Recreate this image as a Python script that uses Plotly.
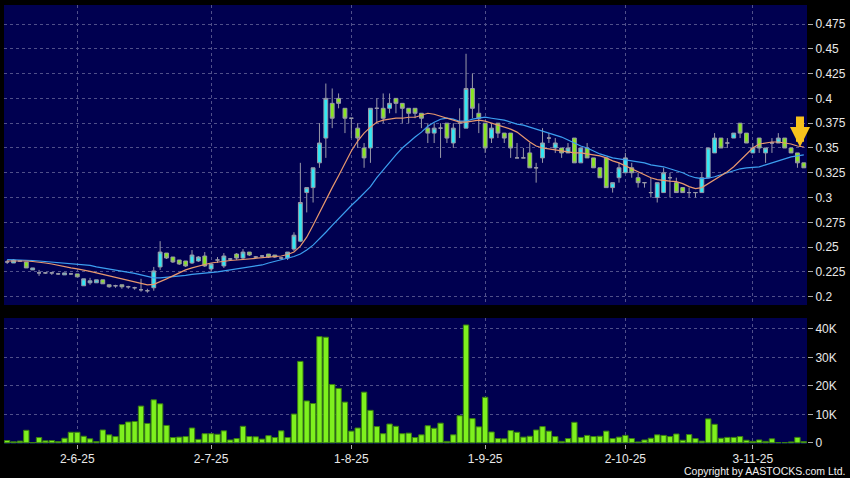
import plotly.graph_objects as go

# ---------------- data ----------------
idx = list(range(126))
tick_idx = [11, 32, 54, 75, 97, 117]
tick_labels = ["2-6-25", "2-7-25", "1-8-25", "1-9-25", "2-10-25", "3-11-25"]

opens = [0.235, 0.234, 0.236, 0.235, 0.227, 0.224, 0.224, 0.224, 0.223, 0.222,
         0.223, 0.223, 0.211, 0.214, 0.214, 0.217, 0.212, 0.211, 0.212, 0.210,
         0.209, 0.207, 0.206, 0.209, 0.230, 0.244, 0.240, 0.237, 0.236, 0.234,
         0.236, 0.241, 0.228, 0.237, 0.231, 0.238, 0.243, 0.239, 0.245, 0.240,
         0.241, 0.243, 0.242, 0.239, 0.239, 0.248, 0.256, 0.305, 0.310, 0.335,
         0.360, 0.395, 0.400, 0.390, 0.380, 0.370, 0.350, 0.350, 0.390, 0.390,
         0.390, 0.400, 0.395, 0.390, 0.390, 0.385, 0.370, 0.365, 0.370, 0.375,
         0.355, 0.375, 0.370, 0.410, 0.385, 0.375, 0.360, 0.375, 0.365, 0.365,
         0.340, 0.340, 0.345, 0.330, 0.340, 0.360, 0.350, 0.350, 0.345, 0.360,
         0.335, 0.350, 0.340, 0.330, 0.340, 0.310, 0.320, 0.325, 0.330, 0.320,
         0.315, 0.305, 0.300, 0.305, 0.320, 0.315, 0.310, 0.305, 0.305, 0.305,
         0.320, 0.345, 0.360, 0.355, 0.360, 0.375, 0.365, 0.345, 0.360, 0.345,
         0.355, 0.355, 0.360, 0.350, 0.345, 0.335]
highs = [0.237, 0.238, 0.237, 0.235, 0.229, 0.227, 0.224, 0.225, 0.224, 0.224,
         0.224, 0.223, 0.218, 0.219, 0.217, 0.217, 0.212, 0.212, 0.212, 0.211,
         0.210, 0.218, 0.208, 0.230, 0.256, 0.244, 0.240, 0.237, 0.236, 0.247,
         0.241, 0.245, 0.233, 0.240, 0.244, 0.239, 0.244, 0.248, 0.245, 0.241,
         0.242, 0.243, 0.242, 0.240, 0.245, 0.265, 0.335, 0.310, 0.330, 0.375,
         0.415, 0.410, 0.405, 0.390, 0.380, 0.375, 0.355, 0.390, 0.400, 0.405,
         0.405, 0.400, 0.395, 0.390, 0.390, 0.385, 0.375, 0.375, 0.375, 0.375,
         0.375, 0.390, 0.445, 0.425, 0.395, 0.375, 0.375, 0.375, 0.365, 0.365,
         0.355, 0.350, 0.355, 0.335, 0.370, 0.365, 0.360, 0.350, 0.355, 0.360,
         0.350, 0.355, 0.340, 0.330, 0.340, 0.315, 0.335, 0.345, 0.335, 0.325,
         0.315, 0.320, 0.315, 0.330, 0.325, 0.320, 0.310, 0.310, 0.305, 0.325,
         0.350, 0.365, 0.360, 0.360, 0.365, 0.375, 0.365, 0.355, 0.360, 0.350,
         0.360, 0.365, 0.360, 0.350, 0.345, 0.335]
lows = [0.233, 0.234, 0.235, 0.229, 0.227, 0.221, 0.223, 0.222, 0.222, 0.222,
        0.222, 0.220, 0.211, 0.212, 0.214, 0.213, 0.209, 0.209, 0.208, 0.208,
        0.207, 0.205, 0.204, 0.206, 0.227, 0.238, 0.234, 0.232, 0.230, 0.233,
        0.235, 0.230, 0.226, 0.234, 0.229, 0.236, 0.237, 0.238, 0.241, 0.238,
        0.240, 0.239, 0.239, 0.237, 0.237, 0.246, 0.255, 0.285, 0.295, 0.330,
        0.340, 0.370, 0.390, 0.365, 0.360, 0.350, 0.330, 0.335, 0.375, 0.375,
        0.385, 0.385, 0.375, 0.375, 0.380, 0.370, 0.355, 0.355, 0.340, 0.355,
        0.350, 0.360, 0.370, 0.380, 0.365, 0.345, 0.355, 0.360, 0.355, 0.340,
        0.340, 0.340, 0.330, 0.315, 0.335, 0.355, 0.345, 0.340, 0.345, 0.335,
        0.335, 0.340, 0.330, 0.320, 0.310, 0.305, 0.315, 0.325, 0.320, 0.310,
        0.310, 0.300, 0.295, 0.305, 0.300, 0.305, 0.305, 0.300, 0.300, 0.305,
        0.320, 0.345, 0.350, 0.350, 0.360, 0.360, 0.355, 0.345, 0.345, 0.335,
        0.345, 0.355, 0.350, 0.345, 0.330, 0.330]
closes = [0.235, 0.237, 0.236, 0.229, 0.229, 0.224, 0.224, 0.224, 0.223, 0.224,
          0.223, 0.220, 0.218, 0.216, 0.217, 0.213, 0.210, 0.211, 0.210, 0.210,
          0.209, 0.207, 0.206, 0.226, 0.245, 0.239, 0.235, 0.233, 0.231, 0.242,
          0.240, 0.231, 0.233, 0.237, 0.241, 0.238, 0.239, 0.245, 0.242, 0.240,
          0.241, 0.240, 0.240, 0.239, 0.245, 0.262, 0.295, 0.310, 0.330, 0.355,
          0.400, 0.380, 0.395, 0.380, 0.380, 0.360, 0.340, 0.390, 0.390, 0.380,
          0.395, 0.395, 0.390, 0.385, 0.385, 0.380, 0.365, 0.370, 0.370, 0.360,
          0.370, 0.375, 0.410, 0.390, 0.380, 0.350, 0.370, 0.365, 0.360, 0.350,
          0.340, 0.340, 0.330, 0.330, 0.355, 0.360, 0.355, 0.345, 0.350, 0.335,
          0.350, 0.340, 0.330, 0.320, 0.310, 0.315, 0.330, 0.340, 0.325, 0.315,
          0.315, 0.305, 0.315, 0.325, 0.320, 0.305, 0.305, 0.305, 0.305, 0.320,
          0.350, 0.360, 0.350, 0.355, 0.365, 0.365, 0.355, 0.350, 0.350, 0.350,
          0.355, 0.360, 0.350, 0.345, 0.335, 0.330]

ma_fast = [0.2360, 0.2362, 0.2362, 0.2360, 0.2355, 0.2350, 0.2340, 0.2330, 0.2315, 0.2300,
           0.2290, 0.2280, 0.2270, 0.2255, 0.2240, 0.2225, 0.2210, 0.2195, 0.2180, 0.2160,
           0.2145, 0.2130, 0.2120, 0.2125, 0.2150, 0.2180, 0.2210, 0.2240, 0.2270, 0.2290,
           0.2310, 0.2325, 0.2340, 0.2350, 0.2360, 0.2365, 0.2370, 0.2375, 0.2380, 0.2385,
           0.2390, 0.2395, 0.2400, 0.2410, 0.2425, 0.2450, 0.2510, 0.2600, 0.2720, 0.2850,
           0.2980, 0.3100, 0.3220, 0.3350, 0.3470, 0.3570, 0.3650, 0.3710, 0.3760, 0.3780,
           0.3790, 0.3800, 0.3800, 0.3810, 0.3810, 0.3830, 0.3850, 0.3840, 0.3820, 0.3800,
           0.3780, 0.3760, 0.3760, 0.3770, 0.3780, 0.3770, 0.3750, 0.3730, 0.3710, 0.3690,
           0.3660, 0.3610, 0.3560, 0.3520, 0.3500, 0.3490, 0.3480, 0.3470, 0.3460, 0.3450,
           0.3450, 0.3440, 0.3430, 0.3420, 0.3400, 0.3370, 0.3350, 0.3320, 0.3290, 0.3260,
           0.3230, 0.3200, 0.3180, 0.3170, 0.3165, 0.3160, 0.3140, 0.3110, 0.3090, 0.3100,
           0.3140, 0.3180, 0.3220, 0.3260, 0.3310, 0.3370, 0.3440, 0.3500, 0.3540, 0.3550,
           0.3560, 0.3560, 0.3550, 0.3540, 0.3520, 0.3510]
ma_slow = [0.2373, 0.2372, 0.2371, 0.2370, 0.2365, 0.2360, 0.2355, 0.2350, 0.2345, 0.2340,
           0.2335, 0.2330, 0.2325, 0.2315, 0.2300, 0.2290, 0.2278, 0.2266, 0.2255, 0.2245,
           0.2235, 0.2220, 0.2205, 0.2190, 0.2190, 0.2195, 0.2205, 0.2210, 0.2215, 0.2225,
           0.2230, 0.2238, 0.2245, 0.2250, 0.2260, 0.2270, 0.2278, 0.2290, 0.2300, 0.2310,
           0.2320, 0.2340, 0.2355, 0.2370, 0.2390, 0.2405, 0.2430, 0.2470, 0.2520, 0.2580,
           0.2650, 0.2720, 0.2790, 0.2860, 0.2920, 0.2980, 0.3040, 0.3110, 0.3200, 0.3280,
           0.3360, 0.3430, 0.3500, 0.3560, 0.3610, 0.3660, 0.3720, 0.3760, 0.3790, 0.3800,
           0.3790, 0.3770, 0.3770, 0.3790, 0.3800, 0.3810, 0.3800, 0.3790, 0.3780, 0.3760,
           0.3740, 0.3730, 0.3710, 0.3690, 0.3670, 0.3650, 0.3630, 0.3610, 0.3580, 0.3550,
           0.3520, 0.3500, 0.3470, 0.3440, 0.3420, 0.3400, 0.3390, 0.3380, 0.3370, 0.3360,
           0.3350, 0.3330, 0.3320, 0.3310, 0.3290, 0.3270, 0.3250, 0.3220, 0.3200, 0.3190,
           0.3195, 0.3210, 0.3230, 0.3250, 0.3270, 0.3290, 0.3300, 0.3305, 0.3310, 0.3330,
           0.3350, 0.3370, 0.3390, 0.3410, 0.3420, 0.3430]

volumes = [800, 350, 600, 4400, 100, 1850, 700, 800, 450, 1600,
           3700, 3700, 2300, 1400, 450, 4500, 2800, 2200, 6400, 7300,
           7500, 12900, 6800, 15100, 13700, 6100, 1850, 2000, 2200, 5200,
           1200, 3200, 3200, 3000, 4200, 1000, 1500, 5800, 2200, 2100,
           1300, 2500, 1850, 4200, 1850, 10100, 28600, 14700, 13800, 37300,
           37100, 20500, 19100, 14300, 4100, 5200, 17800, 11400, 5700, 3200,
           6600, 5800, 3200, 3400, 1850, 2800, 6000, 5100, 6900, 500,
           2800, 9500, 41400, 8500, 5600, 16000, 3800, 1500, 1400, 4300,
           3700, 2000, 2300, 4500, 5700, 4100, 2200, 500, 1500, 7200,
           1900, 2600, 2200, 2300, 4100, 1500, 2000, 2600, 1500, 300,
           1000, 1600, 2800, 2600, 2200, 3100, 900, 2900, 1500, 600,
           8400, 6500, 1600, 1900, 1900, 2200, 900, 500, 1000, 500,
           1400, 100, 100, 300, 1900, 400]

price_ticks = [0.2, 0.225, 0.25, 0.275, 0.3, 0.325, 0.35, 0.375, 0.4, 0.425, 0.45, 0.475]
price_tick_text = ["0.2", "0.225", "0.25", "0.275", "0.3", "0.325", "0.35", "0.375",
                   "0.4", "0.425", "0.45", "0.475"]
vol_ticks = [0, 10000, 20000, 30000, 40000]
vol_tick_text = ["0", "10K", "20K", "30K", "40K"]

# ---------------- styles ----------------
BG = "#000050"
GRID = "#50508a"
TXT = "#e8e8e8"
FONT = "Liberation Sans, Arial, sans-serif"

fig = go.Figure()
fig.add_trace(go.Candlestick(
    x=idx, open=opens, high=highs, low=lows, close=closes,
    increasing=dict(line=dict(color="#9a9aa8", width=1), fillcolor="#30e8f4"),
    decreasing=dict(line=dict(color="#9a9aa8", width=1), fillcolor="#88e620"),
    whiskerwidth=0, xaxis="x", yaxis="y", hoverinfo="skip", showlegend=False))
fig.add_trace(go.Scatter(x=idx, y=ma_slow, mode="lines",
                         line=dict(color="#3c9ff0", width=1.2), xaxis="x", yaxis="y",
                         hoverinfo="skip", showlegend=False))
fig.add_trace(go.Scatter(x=idx, y=ma_fast, mode="lines",
                         line=dict(color="#e8986e", width=1.2), xaxis="x", yaxis="y",
                         hoverinfo="skip", showlegend=False))
fig.add_trace(go.Bar(x=idx, y=volumes, xaxis="x2", yaxis="y2",
                     marker=dict(color="#7ef01e", line=dict(color="#3a8010", width=1)),
                     hoverinfo="skip", showlegend=False))

xcommon = dict(range=[-0.5, 125.5], tickvals=tick_idx, showgrid=True, gridcolor=GRID,
               griddash="3px,3px", gridwidth=1, zeroline=False, showline=False)

fig.update_layout(
    width=850, height=478,
    margin=dict(l=4, r=39, t=5, b=34),
    paper_bgcolor="black", plot_bgcolor=BG,
    showlegend=False, boxgap=0.14, bargap=0.16,
    font=dict(family=FONT, size=12, color=TXT),
    xaxis=dict(domain=[0, 1], anchor="y", showticklabels=False, ticks="",
               rangeslider=dict(visible=False), **xcommon),
    xaxis2=dict(domain=[0, 1], anchor="y2", ticktext=tick_labels, ticks="outside",
                ticklen=4, tickcolor="#aaaaaa", tickfont=dict(size=12, color=TXT),
                **xcommon),
    yaxis=dict(domain=[0.3166, 1], anchor="x", side="right", range=[0.1916, 0.4942],
               tickvals=price_ticks, ticktext=price_tick_text, ticks="outside",
               ticklen=5, tickcolor="#aaaaaa", showgrid=True, gridcolor=GRID,
               griddash="3px,3px", zeroline=False, showline=False,
               tickfont=dict(size=12, color=TXT)),
    yaxis2=dict(domain=[0, 0.287], anchor="x2", side="right", range=[-420, 43850],
                tickvals=vol_ticks, ticktext=vol_tick_text, ticks="outside",
                ticklen=5, tickcolor="#aaaaaa", showgrid=True, gridcolor=GRID,
                griddash="3px,3px", zeroline=False, showline=False,
                tickfont=dict(size=12, color=TXT)),
)

# arrow marking the latest session, pointing at the fast average
fig.add_annotation(x=idx[-1] - 0.6, y=ma_fast[-1], xref="x", yref="y",
                   text="", showarrow=True, arrowhead=2, arrowsize=0.5,
                   arrowwidth=8, arrowcolor="#f7c21c", ax=0, ay=-32)

fig.add_annotation(x=1.05, y=-0.062, xref="paper", yref="paper",
                   text="Copyright by AASTOCKS.com Ltd.", showarrow=False,
                   xanchor="right", yanchor="middle",
                   font=dict(family=FONT, size=10.5, color="#f0f0f0"))

fig.write_html("out.html", config={"displayModeBar": False},
               post_script="document.body.style.margin='0';document.body.style.background='black';")
